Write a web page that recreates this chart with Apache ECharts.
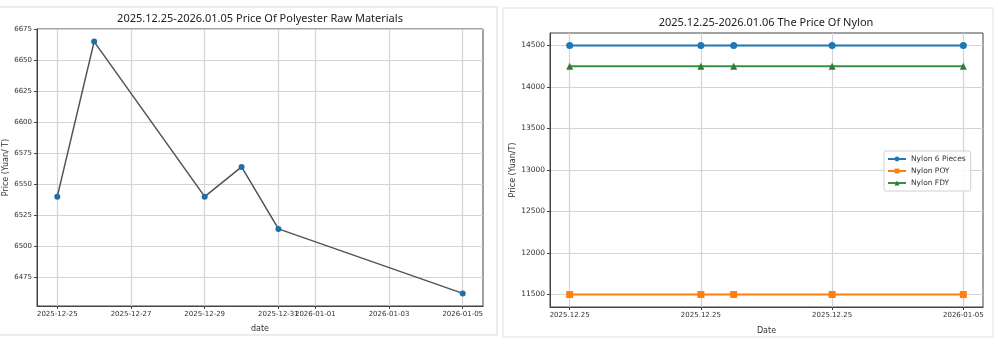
<!DOCTYPE html>
<html>
<head>
<meta charset="utf-8">
<script src="https://cdn.jsdelivr.net/npm/echarts@6/dist/echarts.min.js"></script>
<style>html,body{margin:0;padding:0;background:#fff}#c{width:998px;height:354px}</style>
</head>
<body>
<div id="c"></div>
<script>
// ---- Left chart data ----
const polyTitle = '2025.12.25-2026.01.05 Price Of Polyester Raw Materials';
const polyDates = ['2025-12-25', '2025-12-26', '2025-12-29', '2025-12-30', '2025-12-31', '2026-01-05'];
const polyPrices = [6540, 6665, 6540, 6564, 6514, 6462];
const polyTickDates = ['2025-12-25', '2025-12-27', '2025-12-29', '2025-12-31', '2026-01-01', '2026-01-03', '2026-01-05'];
const polyYTicks = [6475, 6500, 6525, 6550, 6575, 6600, 6625, 6650, 6675];

// ---- Right chart data ----
const nylonTitle = '2025.12.25-2026.01.06 The Price Of Nylon';
const nylonDates = ['2025-12-25', '2025-12-29', '2025-12-30', '2026-01-02', '2026-01-06'];
const nylon6Pieces = [14500, 14500, 14500, 14500, 14500];
const nylonPOY = [11500, 11500, 11500, 11500, 11500];
const nylonFDY = [14250, 14250, 14250, 14250, 14250];
const nylonTickDates = ['2025-12-25', '2025-12-29', '2026-01-02', '2026-01-06'];
const nylonTickLabels = ['2025.12.25', '2025.12.25', '2025.12.25', '2026-01-05'];
const nylonYTicks = [11500, 12000, 12500, 13000, 13500, 14000, 14500];

const DAY = 86400000;
const dayOff = (d, base) => (Date.parse(d) - Date.parse(base)) / DAY;
const pBase = polyDates[0];
const nBase = nylonDates[0];
const polyX = polyDates.map(d => dayOff(d, pBase));
const polyTickX = polyTickDates.map(d => dayOff(d, pBase));
const nylonX = nylonDates.map(d => dayOff(d, nBase));
const nylonTickX = nylonTickDates.map(d => dayOff(d, nBase));

const pSpan = polyX[polyX.length - 1] - polyX[0];
const nSpan = nylonX[nylonX.length - 1] - nylonX[0];
const pYmin = Math.min(...polyPrices), pYmax = Math.max(...polyPrices);
const nAll = nylon6Pieces.concat(nylonPOY, nylonFDY);
const nYmin = Math.min(...nAll), nYmax = Math.max(...nAll);

const FONT = 'DejaVu Sans';
const labelStyle = { color: '#333', fontSize: 7, fontFamily: FONT };
const gridLine = { show: true, lineStyle: { color: '#d4d4d4', width: 1.2 } };
const axisLineStyle = { show: true, onZero: false, lineStyle: { color: '#444', width: 1 } };
const plainNum = v => String(Math.round(v));

const chart = echarts.init(document.getElementById('c'), null, { renderer: 'canvas' });
chart.setOption({
  backgroundColor: '#fff',
  animation: false,
  graphic: [
    { type: 'rect', shape: { x: -2, y: 7, width: 499, height: 328 }, style: { fill: 'none', stroke: '#e8e8e8', lineWidth: 1.5 }, z: -10 },
    { type: 'rect', shape: { x: 503, y: 8, width: 490, height: 329 }, style: { fill: 'none', stroke: '#ececec', lineWidth: 1.5 }, z: -10 }
  ],
  title: [
    { text: polyTitle, left: 260, top: 13, padding: 0, textAlign: 'center', textStyle: { fontSize: 11, fontWeight: 'normal', color: '#222', fontFamily: 'Noto Sans' } },
    { text: nylonTitle, left: 766, top: 17, padding: 0, textAlign: 'center', textStyle: { fontSize: 11, fontWeight: 'normal', color: '#222', fontFamily: 'Noto Sans' } }
  ],
  legend: {
    left: 884, top: 151, orient: 'vertical',
    itemWidth: 18, itemHeight: 6, itemGap: 4,
    padding: [4, 5, 4, 3],
    borderColor: '#d0d0d0', borderWidth: 1, borderRadius: 2,
    backgroundColor: 'rgba(255,255,255,0.85)',
    textStyle: { fontSize: 7.5, color: '#333', fontFamily: FONT },
    data: ['Nylon 6 Pieces', 'Nylon POY', 'Nylon FDY']
  },
  grid: [
    { left: 37, top: 29, width: 446, height: 277, show: true, borderColor: '#444', borderWidth: 1, backgroundColor: 'transparent' },
    { left: 550, top: 33, width: 433, height: 274, show: true, borderColor: '#444', borderWidth: 1, backgroundColor: 'transparent' }
  ],
  xAxis: [
    {
      type: 'value', gridIndex: 0,
      min: polyX[0] - pSpan * 0.05, max: polyX[polyX.length - 1] + pSpan * 0.05,
      name: 'date', nameLocation: 'middle', nameGap: 19,
      nameTextStyle: { fontSize: 8, color: '#333', fontFamily: FONT },
      axisLine: axisLineStyle,
      axisTick: { show: true, length: 3, lineStyle: { color: '#444' }, customValues: polyTickX },
      axisLabel: Object.assign({ margin: 5, customValues: polyTickX, formatter: v => { const i = polyTickX.indexOf(v); return i >= 0 ? polyTickDates[i] : ''; } }, labelStyle),
      splitLine: gridLine
    },
    {
      type: 'value', gridIndex: 1,
      min: nylonX[0] - nSpan * 0.05, max: nylonX[nylonX.length - 1] + nSpan * 0.05,
      name: 'Date', nameLocation: 'middle', nameGap: 20,
      nameTextStyle: { fontSize: 8, color: '#333', fontFamily: FONT },
      axisLine: axisLineStyle,
      axisTick: { show: true, length: 3, lineStyle: { color: '#444' }, customValues: nylonTickX },
      axisLabel: Object.assign({ margin: 5, customValues: nylonTickX, formatter: v => { const i = nylonTickX.indexOf(v); return i >= 0 ? nylonTickLabels[i] : ''; } }, labelStyle),
      splitLine: gridLine
    }
  ],
  yAxis: [
    {
      type: 'value', gridIndex: 0,
      min: pYmin - (pYmax - pYmin) * 0.05, max: pYmax + (pYmax - pYmin) * 0.05,
      name: 'Price (Yuan/ T)', nameLocation: 'middle', nameGap: 25,
      nameTextStyle: { fontSize: 8, color: '#333', fontFamily: FONT },
      axisLine: axisLineStyle,
      axisTick: { show: true, length: 3, lineStyle: { color: '#444' }, customValues: polyYTicks },
      axisLabel: Object.assign({ margin: 5, customValues: polyYTicks, formatter: plainNum }, labelStyle),
      splitLine: gridLine
    },
    {
      type: 'value', gridIndex: 1,
      min: nYmin - (nYmax - nYmin) * 0.05, max: nYmax + (nYmax - nYmin) * 0.05,
      name: 'Price (Yuan/T)', nameLocation: 'middle', nameGap: 32,
      nameTextStyle: { fontSize: 8, color: '#333', fontFamily: FONT },
      axisLine: axisLineStyle,
      axisTick: { show: true, length: 3, lineStyle: { color: '#444' }, customValues: nylonYTicks },
      axisLabel: Object.assign({ margin: 5, customValues: nylonYTicks, formatter: plainNum, fontSize: 7.5 }, { color: '#333', fontFamily: FONT }),
      splitLine: gridLine
    }
  ],
  series: [
    {
      type: 'line', xAxisIndex: 0, yAxisIndex: 0,
      data: polyX.map((x, i) => [x, polyPrices[i]]),
      symbol: 'circle', symbolSize: 6,
      itemStyle: { color: '#1f6fa8' },
      lineStyle: { color: '#4a555d', width: 1.5 },
      z: 3
    },
    {
      name: 'Nylon 6 Pieces', type: 'line', xAxisIndex: 1, yAxisIndex: 1,
      data: nylonX.map((x, i) => [x, nylon6Pieces[i]]),
      symbol: 'circle', symbolSize: 7,
      itemStyle: { color: '#1f77b4' }, lineStyle: { color: '#1f77b4', width: 2 }
    },
    {
      name: 'Nylon POY', type: 'line', xAxisIndex: 1, yAxisIndex: 1,
      data: nylonX.map((x, i) => [x, nylonPOY[i]]),
      symbol: 'rect', symbolSize: 7,
      itemStyle: { color: '#ff7f0e' }, lineStyle: { color: '#ff7f0e', width: 2 }
    },
    {
      name: 'Nylon FDY', type: 'line', xAxisIndex: 1, yAxisIndex: 1,
      data: nylonX.map((x, i) => [x, nylonFDY[i]]),
      symbol: 'triangle', symbolSize: 7,
      itemStyle: { color: '#2e7d32' }, lineStyle: { color: '#3a8f45', width: 2 }
    }
  ]
});
</script>
</body>
</html>
